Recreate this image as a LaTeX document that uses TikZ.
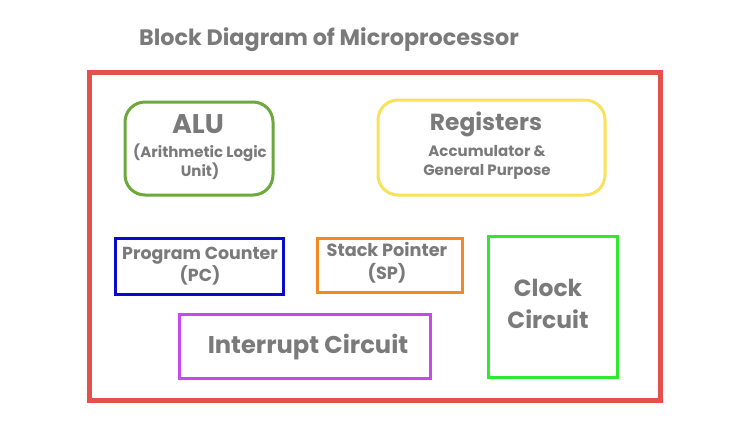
\documentclass[tikz,border=0pt]{standalone}
\usepackage{fontspec}
\setmainfont{Poppins}
\usetikzlibrary{positioning}
\definecolor{textgrey}{HTML}{7A7A7A}
\definecolor{framered}{HTML}{E5504A}
\definecolor{alugreen}{HTML}{6CA83C}
\definecolor{regyellow}{HTML}{F7E25A}
\definecolor{pcblue}{HTML}{0A0ACC}
\definecolor{sporange}{HTML}{F08A24}
\definecolor{clockgreen}{HTML}{2EEA2E}
\definecolor{intpurple}{HTML}{C848EE}
\tikzset{
	block/.style={draw, line width=3pt, fill=white, text=textgrey, align=center, inner sep=0pt},
	rblock/.style={block, rounded corners=20pt},
	label/.style={text=textgrey, align=center, inner sep=0pt}
}
\newcommand{\fsz}[2]{\fontsize{#1}{#2}\selectfont\bfseries}
\begin{document}
\begin{tikzpicture}[x=1pt, y=-1pt]
	\useasboundingbox (0,0) rectangle (750,421);
	% Titel
	\node[label, font=\fsz{22.3}{26}] (title) at (329,40) {Block Diagram of Microprocessor};
	% Rahmen
	\draw[line width=5pt, draw=framered] (89.5,72.5) rectangle (660.5,400);

	% obere Reihe
	\node[rblock, draw=alugreen, minimum width=148pt, minimum height=93pt] (alu) at (199,148.5) {};
	\node[label, font=\fsz{27}{30}] (alutitle) at (198,124) {ALU};
	\node[label, font=\fsz{15}{19}] (aludesc) at (200,162) {(Arithmetic Logic\\Unit)};

	\node[rblock, draw=regyellow, minimum width=227pt, minimum height=95pt] (reg) at (491.5,147.5) {};
	\node[label, font=\fsz{23.3}{28}] (regtitle) at (486,124) {Registers};
	\node[label, font=\fsz{15}{19}] (regdesc) at (487,162) {Accumulator \&\\General Purpose};

	% mittlere Reihe
	\node[block, draw=pcblue, minimum width=168pt, minimum height=56pt] (pc) at (199,266) {};
	\node[label, font=\fsz{17.4}{22}] (pctext) at (200,266) {Program Counter\\(PC)};
	\node[block, draw=sporange, minimum width=145pt, minimum height=54pt] (sp) at (389.5,265) {};
	\node[label, font=\fsz{17.7}{23}] (sptext) at (387,263) {Stack Pointer\\(SP)};
	\node[block, draw=clockgreen, minimum width=129pt, minimum height=141pt] (clock) at (552.5,306.5) {};
	\node[label, font=\fsz{23.4}{32}] (clocktext) at (548,304) {Clock\\Circuit};

	% untere Reihe
	\node[block, draw=intpurple, minimum width=251pt, minimum height=64pt] (intr) at (304.5,346) {};
	\node[label, font=\fsz{24.2}{28}] (intrtext) at (308,347) {Interrupt Circuit};
\end{tikzpicture}
\end{document}
